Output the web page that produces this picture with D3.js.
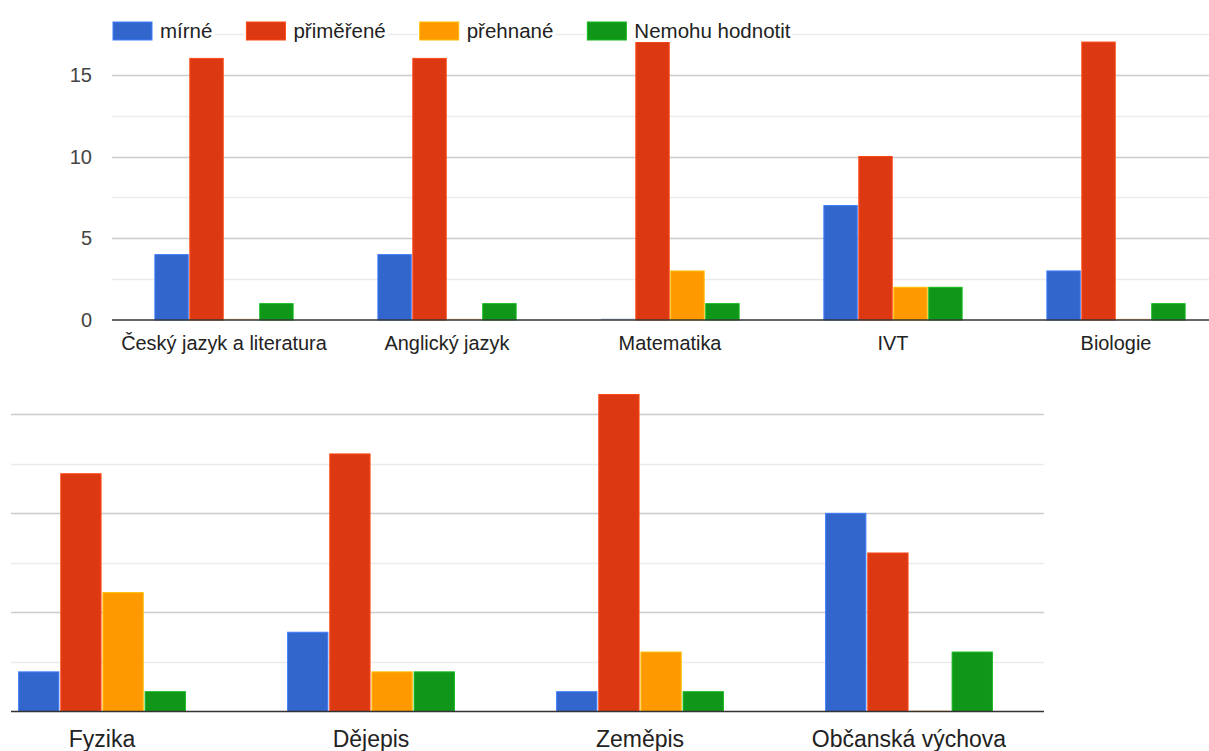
<!DOCTYPE html>
<html>
<head>
<meta charset="utf-8">
<script src="https://cdn.jsdelivr.net/npm/d3@7"></script>
<style>
  html, body { margin: 0; padding: 0; background: #fff; }
  svg { display: block; font-family: Arial, "Liberation Sans", sans-serif; }
</style>
</head>
<body>
<svg id="chart" width="1209" height="751"></svg>
<script>
// ---- data ----
const seriesNames = ["mírné", "přiměřené", "přehnané", "Nemohu hodnotit"];
const seriesColors = ["#3366cc", "#dc3912", "#ff9900", "#109618"];

const topCategories = ["Český jazyk a literatura", "Anglický jazyk", "Matematika", "IVT", "Biologie"];
const topMirne      = [4, 4, 0, 7, 3];
const topPrimerene  = [16, 16, 17, 10, 17];
const topPrehnane   = [0, 0, 3, 2, 0];
const topNemohu     = [1, 1, 1, 2, 1];

const bottomCategories = ["Fyzika", "Dějepis", "Zeměpis", "Občanská výchova"];
const bottomMirne      = [2, 4, 1, 10];
const bottomPrimerene  = [12, 13, 16, 8];
const bottomPrehnane   = [6, 2, 3, 0];
const bottomNemohu     = [1, 2, 1, 3];

const yTickLabels = [0, 5, 10, 15];

// ---- drawing ----
const svg = d3.select("#chart");

function drawPanel(cfg) {
  const g = svg.append("g");
  const rows = cfg.categories.map((c, i) => ({
    cat: c,
    vals: cfg.series.map((s, j) => ({ name: seriesNames[j], color: seriesColors[j], v: s[i] }))
  }));

  const x0 = d3.scaleBand().domain(cfg.categories).range(cfg.xRange).padding(0);
  const bw = x0.bandwidth();
  const x1 = d3.scaleBand().domain(seriesNames).range([bw * 0.19, bw * 0.81]).paddingInner(0.045);
  const y = d3.scaleLinear().domain(cfg.yDomain).range(cfg.yRange);

  // gridlines
  const gridVals = d3.range(0, cfg.gridMax + 0.001, 2.5);
  g.append("g").selectAll("line").data(gridVals.filter(v => v > 0)).join("line")
    .attr("x1", cfg.gridX[0]).attr("x2", cfg.gridX[1])
    .attr("y1", d => Math.round(y(d)) + 0.5).attr("y2", d => Math.round(y(d)) + 0.5)
    .attr("stroke", d => (d % 5 === 0) ? "#cccccc" : "#ebebeb")
    .attr("stroke-width", 1.5);

  // y tick labels
  if (cfg.showYLabels) {
    g.append("g").selectAll("text").data(yTickLabels).join("text")
      .attr("x", cfg.yLabelX).attr("y", d => y(d))
      .attr("dy", "0.36em")
      .attr("text-anchor", "end")
      .attr("font-size", cfg.fontSize)
      .attr("fill", "#444")
      .text(d => d);
  }

  // bars
  const groups = g.append("g").selectAll("g").data(rows).join("g")
    .attr("transform", d => `translate(${x0(d.cat)},0)`);
  groups.selectAll("rect").data(d => d.vals).join("rect")
    .attr("x", d => x1(d.name))
    .attr("width", x1.bandwidth())
    .attr("y", d => d.v > 0 ? y(d.v) : y(0) - 1.5)
    .attr("height", d => d.v > 0 ? y(0) - y(d.v) : 1.5)
    .attr("fill", d => d.color)
    .attr("fill-opacity", d => d.v > 0 ? 1 : 0.3)
    .attr("stroke", d => d.v > 0 ? d3.color(d.color).brighter(0.6) : "none")
    .attr("stroke-width", 1);

  // baseline
  g.append("line")
    .attr("x1", cfg.gridX[0]).attr("x2", cfg.gridX[1])
    .attr("y1", y(0)).attr("y2", y(0))
    .attr("stroke", "#333").attr("stroke-width", 1.6);

  // category labels
  g.append("g").selectAll("text").data(cfg.categories).join("text")
    .attr("x", d => x0(d) + bw / 2)
    .attr("y", cfg.labelY)
    .attr("text-anchor", "middle")
    .attr("font-size", cfg.labelFontSize)
    .attr("fill", "#222")
    .text(d => d);
}

drawPanel({
  categories: topCategories,
  series: [topMirne, topPrimerene, topPrehnane, topNemohu],
  xRange: [112.5, 1227.5],
  yDomain: [0, 17.5],
  yRange: [320, 320 - 17.5 * 16.35],
  gridMax: 17.5,
  gridX: [112, 1209],
  showYLabels: true,
  yLabelX: 92,
  fontSize: 20,
  labelFontSize: 19.9,
  labelY: 350
});

drawPanel({
  categories: bottomCategories,
  series: [bottomMirne, bottomPrimerene, bottomPrehnane, bottomNemohu],
  xRange: [-32.5, 1043.5],
  yDomain: [0, 15],
  yRange: [711.5, 414.3],
  gridMax: 15,
  gridX: [11, 1044],
  showYLabels: false,
  labelFontSize: 23,
  labelY: 747
});

// legend
const legend = svg.append("g");
let lx = 113;
seriesNames.forEach((name, i) => {
  const item = legend.append("g");
  const t = item.append("text")
    .attr("x", lx + 47).attr("y", 38)
    .attr("font-size", 20.5).attr("fill", "#222")
    .text(name);
  const tw = t.node().getComputedTextLength();
  item.insert("rect", "text")
    .attr("x", lx - 2).attr("y", 20).attr("width", 47 + tw + 4).attr("height", 22)
    .attr("fill", "#fff");
  item.append("rect")
    .attr("x", lx).attr("y", 22).attr("width", 39).attr("height", 18)
    .attr("fill", seriesColors[i])
    .attr("stroke", d3.color(seriesColors[i]).brighter(0.6)).attr("stroke-width", 1);
  lx += 47 + tw + 34;
});
</script>
</body>
</html>
